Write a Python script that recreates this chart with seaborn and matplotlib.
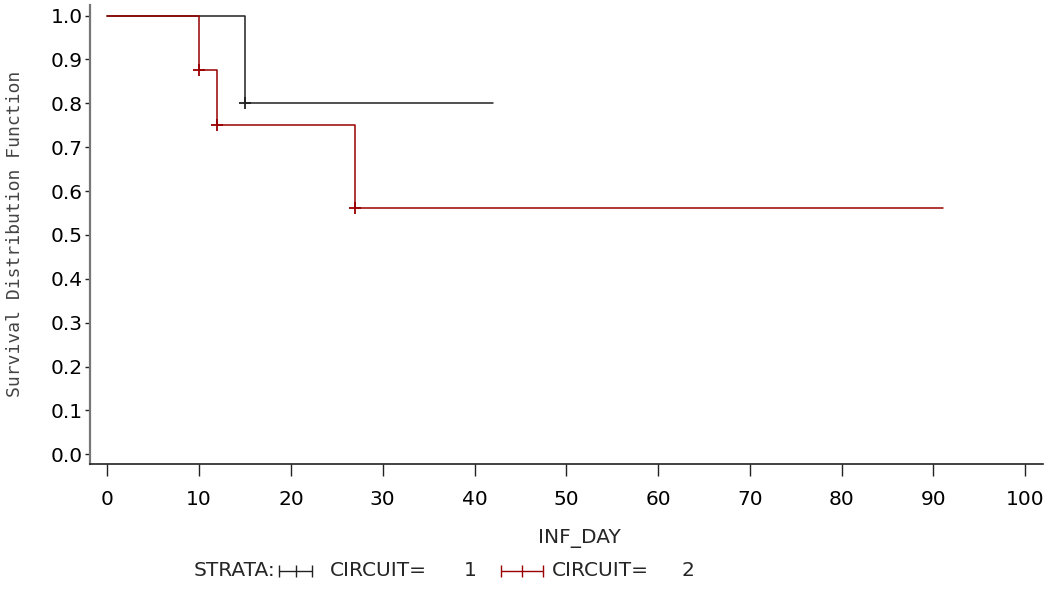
import matplotlib
matplotlib.use("Agg")
import matplotlib.pyplot as plt
from matplotlib.lines import Line2D
import seaborn as sns
import pandas as pd

# ---- data ----
time_c1 = [0, 15, 42]
surv_c1 = [1.0, 0.8, 0.8]
time_c2 = [0, 10, 12, 27, 91]
surv_c2 = [1.0, 0.875, 0.75, 0.5625, 0.5625]
cens_t_c1 = [15]
cens_s_c1 = [0.8]
cens_t_c2 = [10, 12, 27]
cens_s_c2 = [0.875, 0.75, 0.5625]
xticks = [0, 10, 20, 30, 40, 50, 60, 70, 80, 90, 100]
yticks = [0.0, 0.1, 0.2, 0.3, 0.4, 0.5, 0.6, 0.7, 0.8, 0.9, 1.0]
strata_labels = ["1", "2"]

sns.set_style("white")
plt.rcParams['font.family'] = ['DejaVu Sans']

W, H = 1061, 589
fig = plt.figure(figsize=(W / 100, H / 100), dpi=100)
ax_l, ax_r, ax_t, ax_b = 90, 1042.7, 5, 464
ax = fig.add_axes([ax_l / W, 1 - ax_b / H, (ax_r - ax_l) / W, (ax_b - ax_t) / H])

black = "#222222"
red = "#990000"
FS = 14.5

df1 = pd.DataFrame({"t": time_c1, "s": surv_c1})
df2 = pd.DataFrame({"t": time_c2, "s": surv_c2})
sns.lineplot(data=df1, x="t", y="s", drawstyle="steps-post", estimator=None,
             color=black, lw=1.1, ax=ax)
sns.lineplot(data=df2, x="t", y="s", drawstyle="steps-post", estimator=None,
             color=red, lw=1.1, ax=ax)
sns.scatterplot(x=cens_t_c1, y=cens_s_c1, marker="+", s=80, color=black,
                linewidth=1.3, ax=ax, zorder=3)
sns.scatterplot(x=cens_t_c2, y=cens_s_c2, marker="+", s=80, color=red,
                linewidth=1.3, ax=ax, zorder=3)

ax.set_xlim(-1.89, 101.9)
ax.set_ylim(-0.022, 1.024)
ax.set_xticks(xticks)
ax.set_xticklabels([str(v) for v in xticks])
ax.set_yticks(yticks)
ax.set_yticklabels([f"{v:.1f}" for v in yticks])
ax.set_xlabel("")
ax.set_ylabel("")

for side in ["top", "right"]:
    ax.spines[side].set_visible(False)
ax.spines["left"].set_color("#777777")
ax.spines["left"].set_linewidth(1.6)
ax.spines["bottom"].set_color("#222222")
ax.spines["bottom"].set_linewidth(1.2)

ax.tick_params(axis="x", direction="out", length=8.6, width=1.0, color="#222222",
               pad=10, labelsize=FS, labelcolor="black", bottom=True)
ax.tick_params(axis="y", direction="out", length=3.6, width=1.0, color="#222222",
               pad=1.5, labelsize=FS, labelcolor="black", left=True)

# y label (monospace look)
fig.text(15 / W, 1 - 234 / H, "Survival Distribution Function", rotation=90,
         ha="center", va="center", fontsize=13,
         family=["DejaVu Sans Mono"], color="#444444")

# x label
fig.text(579 / W, 1 - 538 / H, "INF_DAY", ha="center", va="center", fontsize=FS)

# legend
ly = 1 - 571 / H
fig.text(275 / W, ly, "STRATA:", ha="right", va="center", fontsize=FS)
fig.text(378 / W, ly, "CIRCUIT=", ha="center", va="center", fontsize=FS)
fig.text(470 / W, ly, strata_labels[0], ha="center", va="center", fontsize=FS)
fig.text(600 / W, ly, "CIRCUIT=", ha="center", va="center", fontsize=FS)
fig.text(688 / W, ly, strata_labels[1], ha="center", va="center", fontsize=FS)

def sample(x0, x1, color):
    xs = [x0 / W, (x0 + x1) / 2 / W, x1 / W]
    fig.add_artist(Line2D(xs, [ly] * 3, color=color, lw=1.0, transform=fig.transFigure))
    fig.add_artist(Line2D(xs, [ly] * 3, color=color, lw=0, marker="|", ms=9,
                          mew=1.0, transform=fig.transFigure))

sample(279, 312, black)
sample(501, 543, red)

fig.savefig("out.png", dpi=100)
